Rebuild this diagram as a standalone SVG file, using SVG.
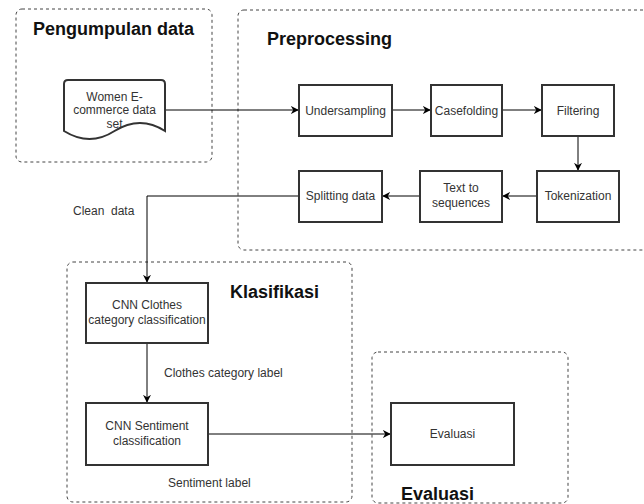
<svg xmlns="http://www.w3.org/2000/svg" width="644" height="504" viewBox="0 0 644 504">
<defs>
<style>
.grp{fill:none;stroke:#444;stroke-width:1;stroke-dasharray:3 3}
.box{fill:#fff;stroke:#333;stroke-width:2}
.t{font-family:"Liberation Sans",Arial,sans-serif;font-size:12px;fill:#333;text-anchor:middle}
.tl{font-family:"Liberation Sans",Arial,sans-serif;font-size:12px;fill:#333}
.title{font-family:"Liberation Sans",Arial,sans-serif;font-size:18px;font-weight:bold;fill:#111}
.con{fill:none;stroke:#000;stroke-width:1}
</style>
<marker id="arr" viewBox="0 0 10 10" refX="9" refY="5" markerWidth="8" markerHeight="8" markerUnits="userSpaceOnUse" orient="auto">
<path d="M0,0 L10,5 L0,10 L3,5 Z" fill="#000"/>
</marker>
</defs>

<g id="group-pengumpulan">
<rect class="grp" x="16" y="9" width="196" height="153" rx="6"/>
<text class="title" x="33" y="35">Pengumpulan data</text>
</g>
<g id="group-preprocessing">
<rect class="grp" x="238" y="10" width="430" height="240" rx="6"/>
<text class="title" x="267" y="45">Preprocessing</text>
</g>
<g id="group-klasifikasi">
<rect class="grp" x="67" y="262" width="285" height="240" rx="6"/>
<text class="title" x="230" y="298">Klasifikasi</text>
</g>
<g id="group-evaluasi">
<rect class="grp" x="372" y="352" width="196" height="151" rx="6"/>
<text class="title" x="401" y="500">Evaluasi</text>
</g>

<g id="connectors">
<path class="con" d="M165,110 H298" marker-end="url(#arr)"/>
<path class="con" d="M392,110 H430" marker-end="url(#arr)"/>
<path class="con" d="M502,110 H541" marker-end="url(#arr)"/>
<path class="con" d="M578,136 V170" marker-end="url(#arr)"/>
<path class="con" d="M537,196 H503" marker-end="url(#arr)"/>
<path class="con" d="M420,196 H383" marker-end="url(#arr)"/>
<path class="con" d="M299,196 H147 V282" marker-end="url(#arr)"/>
<path class="con" d="M147,343 V402" marker-end="url(#arr)"/>
<path class="con" d="M208,434 H390" marker-end="url(#arr)"/>
<text class="tl" x="73" y="215" xml:space="preserve">Clean  data</text>
<text class="tl" x="164" y="377">Clothes category label</text>
<text class="tl" x="168" y="487">Sentiment label</text>
</g>

<g id="node-dataset">
<path class="box" d="M68,80 H161 Q165,80 165,84 V131 Q140.25,115 114.5,131 Q89.75,147 64,131 V84 Q64,80 68,80 Z"/>
<text class="t" x="114.5" y="101">Women E-</text>
<text class="t" x="114.5" y="114">commerce data</text>
<text class="t" x="114.5" y="128">set</text>
</g>
<g id="node-undersampling">
<rect class="box" x="299" y="85" width="93" height="51"/>
<text class="t" x="345.5" y="115">Undersampling</text>
</g>
<g id="node-casefolding">
<rect class="box" x="431" y="85" width="71" height="51"/>
<text class="t" x="466.5" y="115">Casefolding</text>
</g>
<g id="node-filtering">
<rect class="box" x="542" y="85" width="72" height="51"/>
<text class="t" x="578" y="115">Filtering</text>
</g>
<g id="node-tokenization">
<rect class="box" x="537" y="171" width="82" height="51"/>
<text class="t" x="578" y="200">Tokenization</text>
</g>
<g id="node-text-to-sequences">
<rect class="box" x="420" y="171" width="82" height="51"/>
<text class="t" x="461" y="192">Text to</text>
<text class="t" x="461" y="207">sequences</text>
</g>
<g id="node-splitting">
<rect class="box" x="299" y="171" width="83" height="51"/>
<text class="t" x="340.5" y="200">Splitting data</text>
</g>
<g id="node-cnn-clothes">
<rect class="box" x="86" y="283" width="122" height="60"/>
<text class="t" x="147" y="309">CNN Clothes</text>
<text class="t" x="147" y="324">category classification</text>
</g>
<g id="node-cnn-sentiment">
<rect class="box" x="86" y="403" width="122" height="62"/>
<text class="t" x="147" y="430">CNN Sentiment</text>
<text class="t" x="147" y="445">classification</text>
</g>
<g id="node-evaluasi">
<rect class="box" x="391" y="403" width="123" height="62"/>
<text class="t" x="452.5" y="438">Evaluasi</text>
</g>
</svg>
